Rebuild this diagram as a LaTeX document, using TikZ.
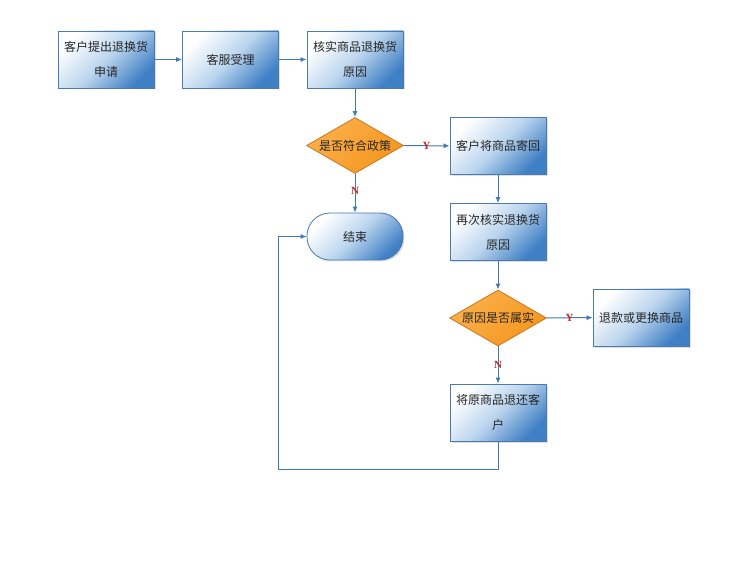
\documentclass[tikz,border=0pt]{standalone}
\usepackage{fontspec}
\newfontfamily\cjk{Noto Sans CJK SC}
\newfontfamily\ynfont{Liberation Serif}
\usetikzlibrary{shapes.geometric,arrows.meta,shadows}
\definecolor{boxblue}{HTML}{3F7FC4}
\definecolor{boxmid}{HTML}{BBD5EE}
\definecolor{edgeblue}{HTML}{4A7AAE}
\definecolor{linecol}{HTML}{4179B5}
\definecolor{dorange}{HTML}{F4961F}
\definecolor{dlight}{HTML}{FBB04A}
\definecolor{dedge}{HTML}{C8781E}
\definecolor{labred}{HTML}{C0282C}
\tikzset{
  procbox/.style={draw=edgeblue, line width=0.8pt, minimum width=96pt, minimum height=57pt,
    top color=white, bottom color=boxblue, middle color=boxmid, shading angle=45,
    align=center, font=\cjk\fontsize{12}{25}\selectfont, text=black!85,
    drop shadow={shadow xshift=1.5pt, shadow yshift=-1.5pt, opacity=0.25, fill=gray}},
  termbox/.style={procbox, rounded corners=23pt, minimum height=47pt},
  decbox/.style={diamond, aspect=1.75, draw=dedge, line width=0.8pt, inner sep=1pt,
    minimum width=95pt, minimum height=56pt,
    top color=dlight, bottom color=dorange, shading angle=45,
    font=\cjk\fontsize{12}{14}\selectfont, text=black!85},
  conn/.style={draw=linecol, line width=1pt, -{Latex[length=6pt,width=5pt]}},
  yn/.style={font=\ynfont\bfseries\fontsize{11}{11}\selectfont, text=labred, inner sep=1pt}
}
\begin{document}
\begin{tikzpicture}[x=1pt,y=-1pt]
\useasboundingbox (0,0) rectangle (750,564);
\node[procbox] (a) at (106,59.5) {客户提出退换货\\申请};
\node[procbox] (b) at (230.5,59.5) {客服受理};
\node[procbox] (c) at (355,59.5) {核实商品退换货\\原因};
\node[decbox] (d1) at (355,145.5) {是否符合政策};
\node[procbox] (e) at (498,146) {客户将商品寄回};
\node[termbox] (end) at (355,236.5) {结束};
\node[procbox] (f) at (498,232) {再次核实退换货\\原因};
\node[decbox] (d2) at (498,318) {原因是否属实};
\node[procbox] (g) at (641,317.5) {退款或更换商品};
\node[procbox] (h) at (498,412.5) {将原商品退还客\\户};
\coordinate (lb) at (278,469);
\draw[conn] (a) -- (b);
\draw[conn] (b) -- (c);
\draw[conn] (c) -- (d1);
\draw[conn] (d1) -- node[yn, pos=0.5] {Y} (e);
\draw[conn] (d1) -- node[yn, pos=0.45] {N} (end);
\draw[conn] (e) -- (f);
\draw[conn] (f) -- (d2);
\draw[conn] (d2) -- node[yn, pos=0.5] {Y} (g);
\draw[conn] (d2) -- node[yn, pos=0.5] {N} (h);
\draw[conn] (h.south) |- (lb) |- (end.west);
\end{tikzpicture}
\end{document}
